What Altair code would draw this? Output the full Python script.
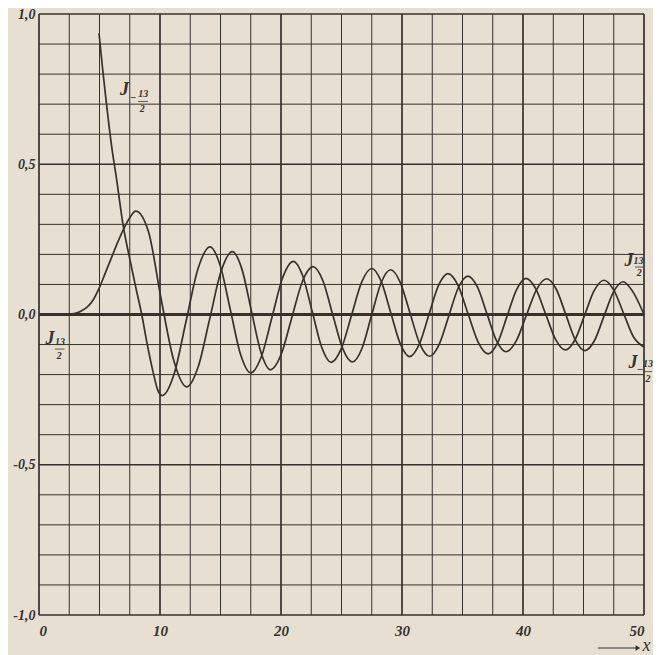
import altair as alt
import pandas as pd

# ---- data ----
# J_{13/2}(x)
x_pos = [0, 1, 2, 2.5, 3, 3.5, 4, 4.5, 5, 5.5, 6, 6.5, 7, 7.5, 7.99,
         9.05, 10.1, 11.15, 12.21, 13.15, 14.10, 15.04, 15.98, 16.77, 17.55,
         18.34, 19.12, 20.0, 20.88, 21.76, 22.64, 23.455, 24.27, 25.085, 25.9,
         26.69, 27.475, 28.26, 29.05, 29.855, 30.66, 31.465, 32.27, 33.065,
         33.86, 34.655, 35.45, 36.24, 37.025, 37.81, 38.6, 39.44, 40.28, 41.12,
         41.96, 42.75, 43.54, 44.33, 45.12, 45.91, 46.695, 47.48, 48.27, 49.06, 50]
j_pos = [0, 0, 0.0005, 0.001, 0.004, 0.012, 0.025, 0.05, 0.09, 0.14, 0.19, 0.24,
         0.285, 0.322, 0.344,
         0.275, 0.05, -0.155, -0.241, -0.175, -0.016, 0.143, 0.209, 0.151, 0.0125,
         -0.126, -0.184, -0.134, -0.0125, 0.109, 0.159, 0.113, 0.0, -0.112, -0.158,
         -0.113, -0.0045, 0.104, 0.149, 0.107, 0.005, -0.097, -0.139, -0.100,
         -0.0055, 0.089, 0.128, 0.091, 0.002, -0.087, -0.124, -0.088, -0.0025, 0.083,
         0.119, 0.084, -0.0005, -0.085, -0.12, -0.0865, -0.0055, 0.075, 0.109, 0.077, 0.0]

# J_{-13/2}(x)
x_neg = [4.96, 5.25, 5.54, 6.0, 6.42, 6.94, 7.5, 8.0, 8.49, 8.95, 9.45, 9.8, 10.18,
         11.17, 12.155, 13.14, 14.13, 14.97, 15.815, 16.66, 17.5, 18.38, 19.26,
         20.14, 21.02, 21.80, 22.585, 23.37, 24.15, 24.99, 25.825, 26.66, 27.5,
         28.28, 29.065, 29.85, 30.63, 31.42, 32.215, 33.01, 33.8, 34.63, 35.46,
         36.29, 37.12, 37.90, 38.685, 39.47, 40.25, 41.06, 41.875, 42.69, 43.5,
         44.30, 45.095, 45.89, 46.69, 47.505, 48.32, 49.135, 50]
j_neg = [0.936, 0.82, 0.714, 0.56, 0.448, 0.3, 0.185, 0.09, 0.0, -0.1, -0.195, -0.25, -0.27,
         -0.1975, -0.0225, 0.152, 0.225, 0.164, 0.0155, -0.133, -0.194, -0.14, -0.0085,
         0.123, 0.177, 0.128, 0.009, -0.110, -0.159, -0.113, -0.003, 0.107, 0.153,
         0.110, 0.0065, -0.097, -0.14, -0.0996, -0.002, 0.096, 0.136, 0.097, 0.0025,
         -0.092, -0.131, -0.0945, -0.0055, 0.083, 0.12, 0.085, 0.001, -0.083, -0.118,
         -0.084, -0.002, 0.080, 0.114, 0.081, 0.003, -0.075, -0.108]

# grid lines and tick labels
x_grid = [0, 2.5, 5, 7.5, 10, 12.5, 15, 17.5, 20, 22.5, 25, 27.5, 30, 32.5, 35,
          37.5, 40, 42.5, 45, 47.5, 50]
y_grid = [-1.0, -0.9, -0.8, -0.7, -0.6, -0.5, -0.4, -0.3, -0.2, -0.1, 0.0,
          0.1, 0.2, 0.3, 0.4, 0.5, 0.6, 0.7, 0.8, 0.9, 1.0]
x_major = [0, 10, 20, 30, 40, 50]
y_major = [-1.0, -0.5, 0.5, 1.0]
x_ticks = [0, 10, 20, 30, 40, 50]
y_ticks = [-1.0, -0.5, 0.0, 0.5, 1.0]

# curve labels  J with stacked fraction subscripts
j_text = ["J", "J", "J", "J"]
j_x = [7.07, 0.91, 48.75, 49.1]
j_y = [0.747, -0.08, 0.178, -0.161]
sub_text = ["\u2013", "13", "2", "13", "2", "13", "2", "\u2013", "13", "2"]
sub_x = [7.79, 8.62, 8.54, 1.74, 1.68, 49.55, 49.6, 49.68, 50.33, 50.33]
sub_y = [0.725, 0.735, 0.684, -0.092, -0.137, 0.178, 0.139, -0.181, -0.166, -0.213]
bar_x1 = [8.2, 1.32, 49.25, 50.02]
bar_x2 = [9.0, 2.1, 49.95, 50.65]
bar_y = [0.709, -0.115, 0.158, -0.19]

INK = "#35312c"
PAPER = "#e7e0d2"

curves = pd.concat([
    pd.DataFrame({"x": x_pos, "y": j_pos, "s": "J13/2"}),
    pd.DataFrame({"x": x_neg, "y": j_neg, "s": "J-13/2"}),
])

XS = alt.Scale(domain=[0, 50], nice=False, zero=False)
YS = alt.Scale(domain=[-1, 1], nice=False, zero=False)

AX = alt.Axis(values=x_ticks, format="d", grid=False, ticks=False, domain=False,
              labelPadding=8, labelFontSize=15, labelFont="Liberation Serif",
              labelFontStyle="italic", labelFontWeight="bold", labelColor=INK, title=None)
AY = alt.Axis(values=y_ticks, grid=False, ticks=False, domain=False,
              labelExpr="(datum.value < 0 ? '-' : '') + replace(format(abs(datum.value), '.1f'), '.', ',')",
              labelPadding=4, labelFontSize=14, labelBaseline="middle",
              labelFont="Liberation Serif", labelFontStyle="italic",
              labelFontWeight="bold", labelColor=INK, title=None)


def X(f="x:Q"):
    return alt.X(f, scale=XS, axis=AX, title=None)


def Y(f="y:Q"):
    return alt.Y(f, scale=YS, axis=AY, title=None)


vdf = pd.DataFrame({"x": x_grid, "w": [1.7 if v in x_major else 1.0 for v in x_grid]})
hdf = pd.DataFrame({"y": y_grid,
                    "w": [3.0 if v == 0 else (1.7 if v in y_major else 1.0) for v in y_grid]})

vlines = alt.Chart(vdf).mark_rule(color=INK).encode(
    x=X(), strokeWidth=alt.StrokeWidth("w:Q", scale=None, legend=None))
hlines = alt.Chart(hdf).mark_rule(color=INK).encode(
    y=Y(), strokeWidth=alt.StrokeWidth("w:Q", scale=None, legend=None))

lines = alt.Chart(curves).mark_line(
    interpolate="monotone", color=INK, strokeWidth=1.7
).encode(x=X(), y=Y(), detail="s:N")

jlab = alt.Chart(pd.DataFrame({"x": j_x, "y": j_y, "t": j_text})).mark_text(
    font="Liberation Serif", fontStyle="italic", fontWeight="bold", fontSize=18, color=INK
).encode(x=X(), y=Y(), text="t:N")

slab = alt.Chart(pd.DataFrame({"x": sub_x, "y": sub_y, "t": sub_text})).mark_text(
    font="Liberation Serif", fontStyle="italic", fontWeight="bold", fontSize=10, color=INK
).encode(x=X(), y=Y(), text="t:N")

bars = alt.Chart(pd.DataFrame({"x": bar_x1, "x2": bar_x2, "y": bar_y})).mark_rule(
    color=INK, strokeWidth=0.8
).encode(x=X(), x2="x2:Q", y=Y())

# arrow "-> x" under the axis
arrow = alt.Chart(pd.DataFrame({"x": [46.2], "x2": [49.5], "y": [-1.11]})).mark_rule(
    color=INK, strokeWidth=1.1).encode(x=X(), x2="x2:Q", y=Y())
head = alt.Chart(pd.DataFrame({"x": [49.5], "y": [-1.11]})).mark_point(
    shape="triangle-right", filled=True, color=INK, size=30, opacity=1
).encode(x=X(), y=Y())
xlab = alt.Chart(pd.DataFrame({"x": [50.2], "y": [-1.103], "t": ["x"]})).mark_text(
    font="Liberation Serif", fontStyle="italic", fontSize=18, color=INK
).encode(x=X(), y=Y(), text="t:N")

chart = alt.layer(vlines, hlines, lines, jlab, slab, bars, arrow, head, xlab).properties(
    width=605, height=601,
    autosize=alt.AutoSizeParams(type="none"),
    padding={"left": 31, "top": 6, "right": 9, "bottom": 40},
    background=PAPER,
).configure_view(stroke=None, fill=PAPER)

chart.save("out.html", embed_options={"renderer": "svg", "actions": False})
